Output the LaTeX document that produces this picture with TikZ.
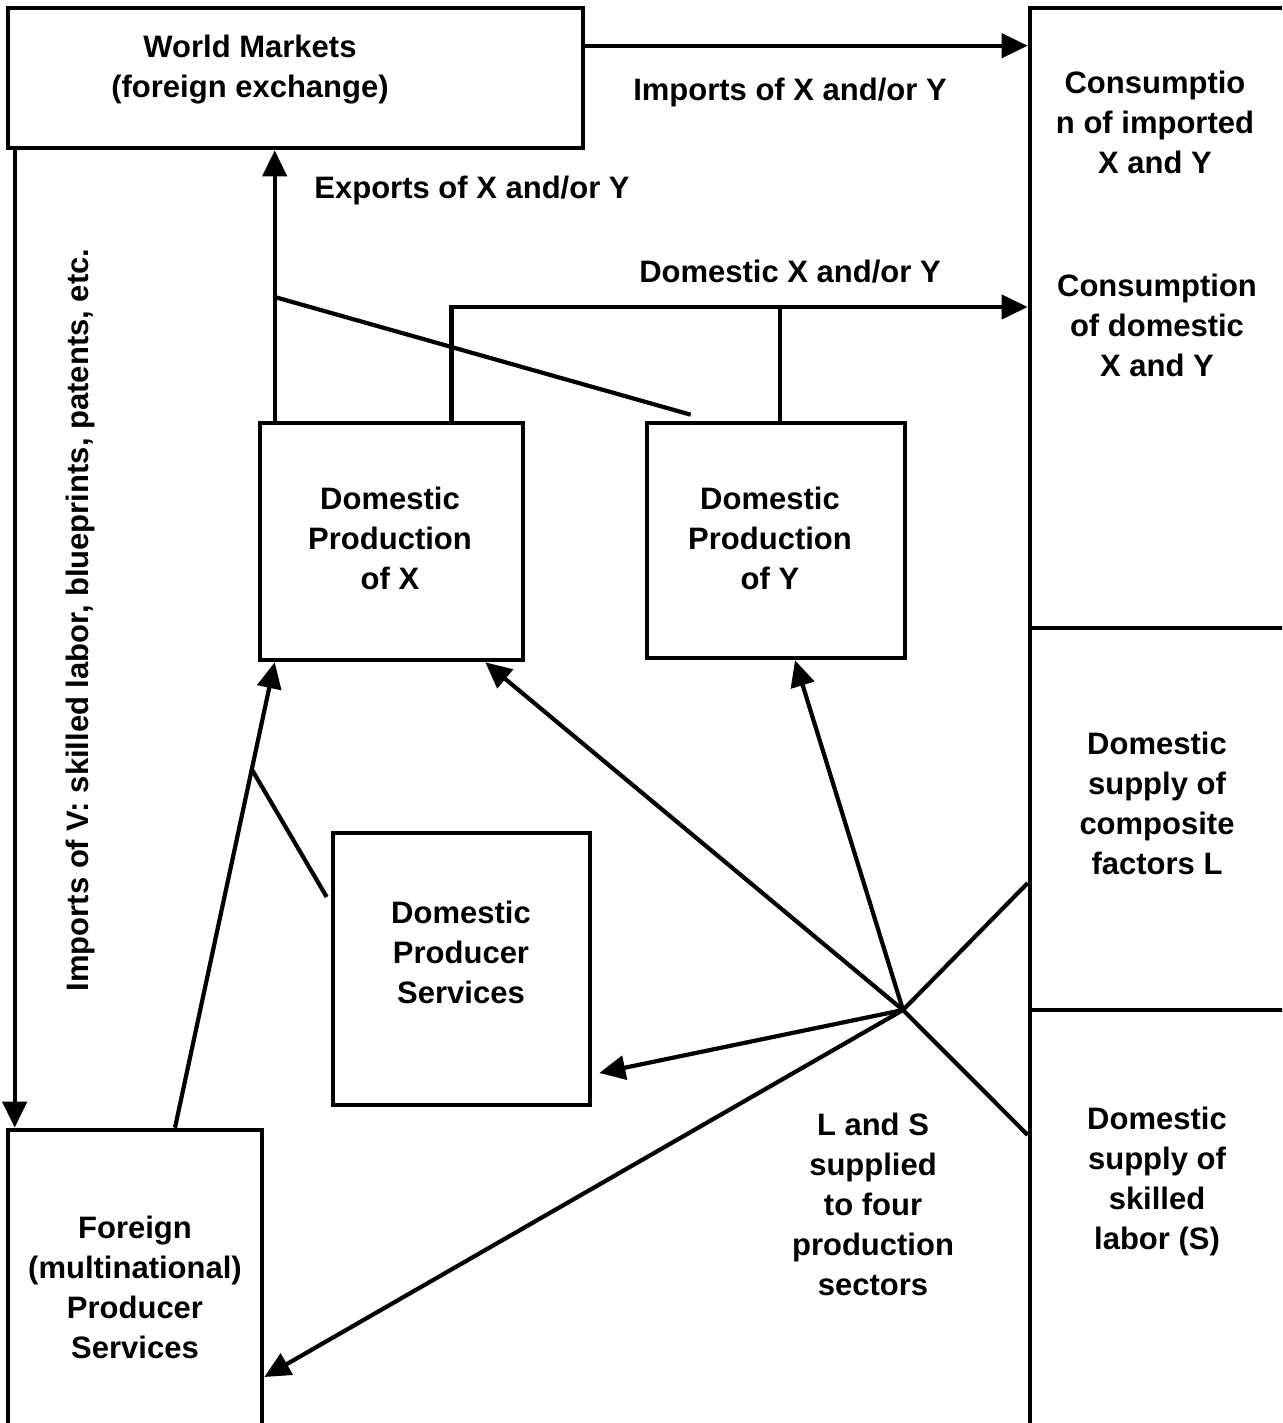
\documentclass[tikz,border=0pt]{standalone}
\usepackage{fontspec}
\setmainfont{Liberation Sans}
\usetikzlibrary{arrows.meta,calc}

\begin{document}
\begin{tikzpicture}[x=0.5pt,y=-0.5pt,
        box/.style={draw,line width=2.3pt,inner sep=0pt},
        txt/.style={align=center,inner sep=0pt,font=\bfseries\fontsize{15.5pt}{20pt}\selectfont},
        arr/.style={line width=2.1pt,-{Triangle[length=13pt,width=12pt]}},
        ln/.style={line width=2.1pt}]
    \useasboundingbox (0,0) rectangle (1282,1423);
    \clip (0,0) rectangle (1282,1423);

    % boxes
    \node[box,minimum width=287.5pt,minimum height=70pt]  (wm)   at (295.5,78)    {};
    \node[box,minimum width=135pt,minimum height=716pt]   (cons) at (1165,724)    {};
    \node[box,minimum width=131.5pt,minimum height=118.5pt] (px) at (391.5,541.5) {};
    \node[box,minimum width=129pt,minimum height=117.5pt] (py)   at (776,540.5)   {};
    \node[box,minimum width=128.5pt,minimum height=136pt] (dps)  at (461.5,969)   {};
    \node[box,minimum width=127pt,minimum height=160pt]   (fps)  at (135,1290)    {};

    % levels
    \coordinate (lvlA) at (0,628);
    \coordinate (lvlB) at (0,1010);
    \coordinate (lvlX) at (0,297);
    \coordinate (lvlD) at (0,307);
    \coordinate (hub)  at (903,1010);
    \draw[ln] (cons.west |- lvlA) -- (cons.east |- lvlA);
    \draw[ln] (cons.west |- lvlB) -- (cons.east |- lvlB);

    % texts
    \node[txt] (wmtxt)  at (250,70)    {World Markets\\(foreign exchange)};
    \node[txt] (imptxt) at (790,92)    {Imports of X and/or Y};
    \node[txt] (exptxt) at (472,190)   {Exports of X and/or Y};
    \node[txt] (domtxt) at (790,272)   {Domestic X and/or Y};
    \node[txt] (cimp)   at (1155,122)  {Consumptio\\n of imported\\X and Y};
    \node[txt] (cdom)   at (1157,325)  {Consumption\\of domestic\\X and Y};
    \node[txt] (supL)   at (1157,803)  {Domestic\\supply of\\composite\\factors L};
    \node[txt] (supS)   at (1157,1181) {Domestic\\supply of\\skilled\\labor (S)};
    \node[txt] (pxtxt)  at (390,538)   {Domestic\\Production\\of X};
    \node[txt] (pytxt)  at (770,538)   {Domestic\\Production\\of Y};
    \node[txt] (dpstxt) at (461,952)   {Domestic\\Producer\\Services};
    \node[txt] (fpstxt) at (135,1287)  {Foreign\\(multinational)\\Producer\\Services};
    \node[txt] (lstxt)  at (873,1204)  {L and S\\supplied\\to four\\production\\sectors};
    \node[txt,rotate=90] (vtxt) at (80,620) {Imports of V: skilled labor, blueprints, patents, etc.};

    % flows of goods
    \coordinate (impA) at ([yshift=-20pt]wm.north east);
    \draw[arr] (impA) -- (impA -| cons.west);
    \coordinate (expA) at ([xshift=8.5pt]px.north west);
    \draw[arr] (expA) -- (expA |- wm.south);
    \draw[ln] (expA |- lvlX) -- ([xshift=23pt,yshift=3pt]py.north west);
    \coordinate (domA) at ([xshift=30pt]px.north);
    \draw[arr] (domA) |- (lvlD -| cons.west);
    \coordinate (domB) at ([xshift=2pt]py.north);
    \draw[ln] (domB) -- (domB |- lvlD);

    % imports of V
    \coordinate (vA) at ([xshift=4.5pt]wm.south west);
    \draw[arr] (vA) -- (vA |- fps.north);
    \coordinate (fA) at ([xshift=20pt]fps.north);
    \coordinate (fB) at ([xshift=8.5pt]px.south west);
    \draw[arr] (fA) -- (fB);
    \draw[ln] ($(fA)!0.77!(fB)$) -- ([xshift=-2pt,yshift=36pt]dps.west);

    % factor supply
    \draw[arr] (hub) -- ([xshift=-20pt]px.south east);
    \draw[arr] (hub) -- ([xshift=9.5pt]py.south);
    \draw[arr] (hub) -- ([xshift=3.5pt,yshift=-52pt]dps.east);
    \draw[arr] (hub) -- ([yshift=-43.5pt]fps.east);
    \draw[ln] (hub) -- ([yshift=-79.5pt]cons.west);
    \draw[ln] (hub) -- ([yshift=-205.5pt]cons.west);
\end{tikzpicture}
\end{document}
